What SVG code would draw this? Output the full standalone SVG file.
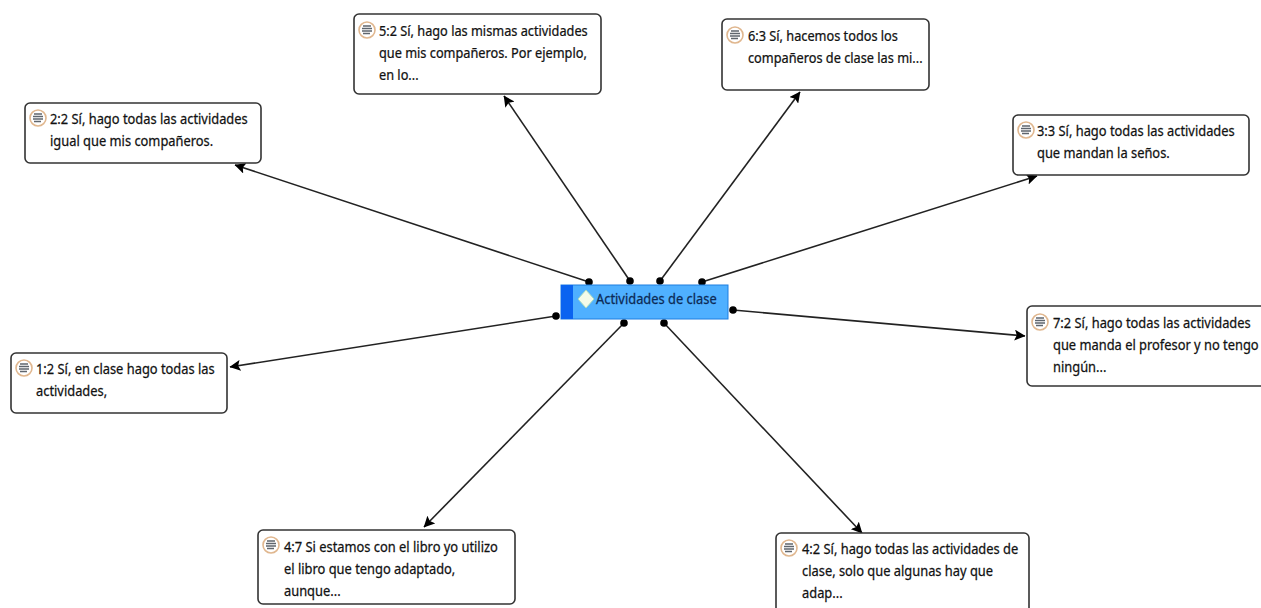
<svg xmlns="http://www.w3.org/2000/svg" width="1261" height="608" viewBox="0 0 1261 608">
<style>
.n{fill:#fff;stroke:#333;stroke-width:1.6}
.t{font-family:"Noto Sans","Open Sans",sans-serif;font-size:14px;fill:#111;stroke:#111;stroke-width:.25}
.c{stroke:#222;stroke-width:1.6;fill:none;marker-end:url(#a)}
.d{fill:#000}
.ic{fill:#fff;stroke:#e0b78f;stroke-width:1.6}
.il{stroke:#5f666e;stroke-width:1.4}
</style>
<defs>
<marker id="a" viewBox="0 0 10 10" refX="9.500" refY="5" markerWidth="11" markerHeight="11" markerUnits="userSpaceOnUse" orient="auto"><path d="M0 0L10 5L0 10L2 5Z" fill="#000"/></marker>
<g id="i"><circle class="ic" cx="0" cy="0" r="8"/><path class="il" d="M-4-4H4M-5-1.500H5M-5 1H5M-4 3.500H3"/></g>
</defs>
<rect width="1261" height="608" fill="#fff"/>
<g id="connectors">
<path class="c" d="M589 282L235 165"/>
<path class="c" d="M630 281L504 96"/>
<path class="c" d="M660 281L800 92"/>
<path class="c" d="M702 282L1037 176"/>
<path class="c" d="M733 310L1025 336"/>
<path class="c" d="M664 323L862 533"/>
<path class="c" d="M624 323L424 527"/>
<path class="c" d="M556 316L230 367"/>
<g class="d"><circle cx="589" cy="282" r="3.800"/><circle cx="630" cy="281" r="3.800"/><circle cx="660" cy="281" r="3.800"/><circle cx="702" cy="282" r="3.800"/><circle cx="733" cy="310" r="3.800"/><circle cx="664" cy="323" r="3.800"/><circle cx="624" cy="323" r="3.800"/><circle cx="556" cy="316" r="3.800"/></g>
</g>
<g id="center">
<rect x="561" y="285" width="167" height="34" fill="#4fb0ff" stroke="#1f7fe0"/>
<rect x="561" y="285" width="12" height="34" fill="#0a63f0"/>
<path d="M586 290L594 299L586 308L578 299Z" fill="#f4fbe9" stroke="#a9dcc0"/>
<text transform="translate(596 304) scale(.92 1)" class="t" style="fill:#0c2a55;stroke:#0c2a55">Actividades de clase</text>
</g>
<g id="n22"><rect class="n" x="25" y="103" width="236" height="60" rx="5"/><use href="#i" x="38" y="118"/><text class="t" transform="translate(50 124) scale(.92 1)">2:2 Sí, hago todas las actividades</text><text class="t" transform="translate(50 146) scale(.92 1)">igual que mis compañeros.</text></g>
<g id="n52"><rect class="n" x="354" y="14" width="247" height="80" rx="5"/><use href="#i" x="367" y="30"/><text class="t" transform="translate(379 36) scale(.91 1)">5:2 Sí, hago las mismas actividades</text><text class="t" transform="translate(379 58) scale(.91 1)">que mis compañeros. Por ejemplo,</text><text class="t" transform="translate(379 80) scale(.91 1)">en lo...</text></g>
<g id="n63"><rect class="n" x="722" y="19" width="207" height="71" rx="5"/><use href="#i" x="735" y="35"/><text class="t" transform="translate(748 41) scale(.91 1)">6:3 Sí, hacemos todos los</text><text class="t" transform="translate(748 63) scale(.91 1)">compañeros de clase las mi...</text></g>
<g id="n33"><rect class="n" x="1013" y="115" width="236" height="60" rx="5"/><use href="#i" x="1026" y="130"/><text class="t" transform="translate(1037 136) scale(.92 1)">3:3 Sí, hago todas las actividades</text><text class="t" transform="translate(1037 158) scale(.92 1)">que mandan la seños.</text></g>
<g id="n72"><rect class="n" x="1027" y="306" width="240" height="80" rx="5"/><use href="#i" x="1040" y="322"/><text class="t" transform="translate(1053 328) scale(.92 1)">7:2 Sí, hago todas las actividades</text><text class="t" transform="translate(1053 350) scale(.92 1)">que manda el profesor y no tengo</text><text class="t" transform="translate(1053 372) scale(.92 1)">ningún...</text></g>
<g id="n12"><rect class="n" x="11" y="353" width="216" height="60" rx="5"/><use href="#i" x="24" y="368"/><text class="t" transform="translate(36 374) scale(.92 1)">1:2 Sí, en clase hago todas las</text><text class="t" transform="translate(36 396) scale(.92 1)">actividades,</text></g>
<g id="n47"><rect class="n" x="258" y="530" width="257" height="74" rx="5"/><use href="#i" x="271" y="545"/><text class="t" transform="translate(284 552) scale(.92 1)">4:7 Si estamos con el libro yo utilizo</text><text class="t" transform="translate(284 574) scale(.92 1)">el libro que tengo adaptado,</text><text class="t" transform="translate(284 596) scale(.92 1)">aunque...</text></g>
<g id="n42"><rect class="n" x="776" y="533" width="253" height="85" rx="5"/><use href="#i" x="789" y="548"/><text class="t" transform="translate(802 554) scale(.92 1)">4:2 Sí, hago todas las actividades de</text><text class="t" transform="translate(802 576) scale(.92 1)">clase, solo que algunas hay que</text><text class="t" transform="translate(802 598) scale(.92 1)">adap...</text></g>
</svg>
